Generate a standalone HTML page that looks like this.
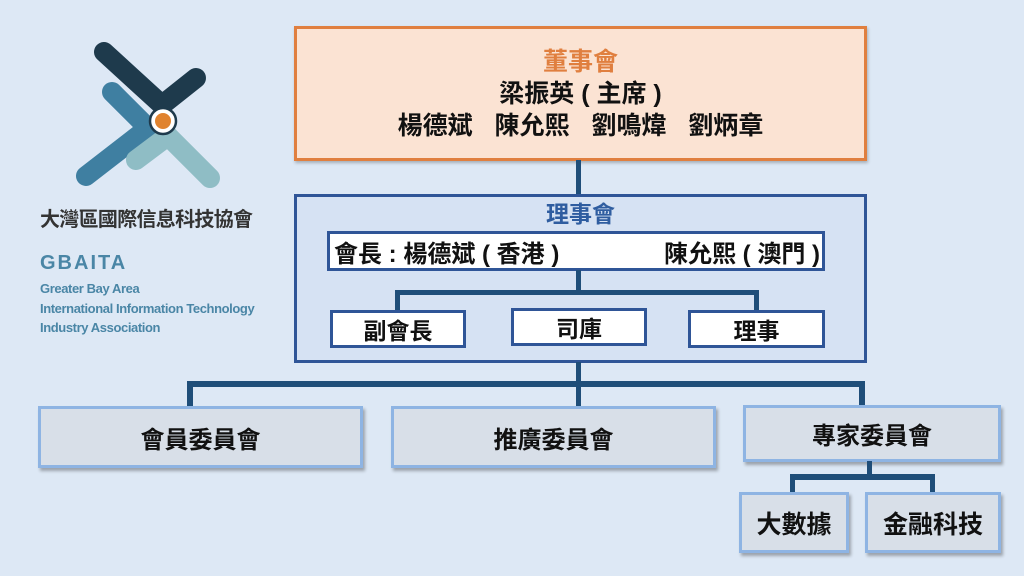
<!DOCTYPE html>
<html><head><meta charset="utf-8"><style>
body{margin:0;width:1024px;height:576px;background:#dde8f5;position:relative;overflow:hidden;font-family:"Liberation Sans","Noto Sans CJK TC",sans-serif;}
.a{position:absolute;box-sizing:border-box;display:flex;align-items:center;justify-content:center;color:#111;}
.l{position:absolute;background:#1f4e79;}
.w{background:#fff;border:3px solid #2f5597;font-size:23px;font-weight:bold;}
.c{background:#d8dfe8;border:3px solid #8eb4e3;box-shadow:2px 3px 3px rgba(0,0,0,.3);font-size:24px;font-weight:bold;}
.t{position:absolute;white-space:nowrap;}
</style></head><body>
<svg style="position:absolute;left:0;top:0" width="300" height="200">
<g stroke-linecap="round" stroke-width="20" fill="none">
<line x1="104" y1="52" x2="162" y2="105" stroke="#1e3a4c"/>
<line x1="162" y1="105" x2="196" y2="78" stroke="#1e3a4c"/>
<line x1="112" y1="92" x2="148" y2="128" stroke="#3f7fa1"/>
<line x1="148" y1="128" x2="86" y2="176" stroke="#3f7fa1"/>
<line x1="136" y1="160" x2="168" y2="136" stroke="#8fbdc5"/>
<line x1="168" y1="136" x2="210" y2="178" stroke="#8fbdc5"/>
</g>
<circle cx="163" cy="121" r="13" fill="#fff" stroke="#1e3a4c" stroke-width="2.5"/>
<circle cx="163" cy="121" r="8" fill="#e0832f"/>
</svg>
<div class="t" style="left:40px;top:203px;font-size:20px;font-weight:bold;color:#333;letter-spacing:-0.7px">大灣區國際信息科技協會</div>
<div class="t" style="left:40px;top:252px;font-size:20px;font-weight:bold;color:#4a86a6;letter-spacing:2px">GBAITA</div>
<div class="t" style="left:40px;top:279px;font-size:13px;font-weight:bold;color:#4a86a6;line-height:19.5px;letter-spacing:-0.4px">Greater Bay Area<br>International Information Technology<br>Industry Association</div>

<div class="a" style="left:294px;top:26px;width:573px;height:135px;background:#fbe3d3;border:3px solid #e07f3f;box-shadow:1px 2px 3px rgba(0,0,0,.25);flex-direction:column;font-weight:bold;font-size:25px;line-height:32px">
<div style="color:#e07f3f">董事會</div><div>梁振英 ( 主席 )</div><div style="word-spacing:4px">楊德斌&nbsp; 陳允熙&nbsp; 劉鳴煒&nbsp; 劉炳章</div></div>
<div class="l" style="left:576px;top:160px;width:5px;height:35px"></div>
<div class="a" style="left:294px;top:194px;width:573px;height:169px;background:#d6e2f3;border:3px solid #2f5597;align-items:flex-start"><div style="color:#2f5da0;font-size:23px;font-weight:bold;margin-top:2px;line-height:30px">理事會</div></div>
<div class="a w" style="left:327px;top:231px;width:498px;height:40px;justify-content:space-between;padding:0 2px 0 4px;font-size:24px">
<span>會長 : 楊德斌 ( 香港 )</span><span>陳允熙 ( 澳門 )</span></div>
<div class="l" style="left:576px;top:270px;width:5px;height:24px"></div>
<div class="l" style="left:395px;top:290px;width:364px;height:5px"></div>
<div class="l" style="left:395px;top:290px;width:5px;height:21px"></div>
<div class="l" style="left:754px;top:290px;width:5px;height:21px"></div>
<div class="a w" style="left:330px;top:310px;width:136px;height:38px">副會長</div>
<div class="a w" style="left:511px;top:308px;width:136px;height:38px">司庫</div>
<div class="a w" style="left:688px;top:310px;width:137px;height:38px">理事</div>
<div class="l" style="left:576px;top:362px;width:5px;height:46px"></div>
<div class="l" style="left:187px;top:381px;width:678px;height:6px"></div>
<div class="l" style="left:187px;top:381px;width:6px;height:27px"></div>
<div class="l" style="left:859px;top:381px;width:6px;height:26px"></div>
<div class="a c" style="left:38px;top:406px;width:325px;height:62px">會員委員會</div>
<div class="a c" style="left:391px;top:406px;width:325px;height:62px">推廣委員會</div>
<div class="a c" style="left:743px;top:405px;width:258px;height:57px">專家委員會</div>
<div class="l" style="left:867px;top:461px;width:5px;height:16px"></div>
<div class="l" style="left:790px;top:474px;width:145px;height:6px"></div>
<div class="l" style="left:790px;top:474px;width:5px;height:19px"></div>
<div class="l" style="left:930px;top:474px;width:5px;height:19px"></div>
<div class="a c" style="left:739px;top:492px;width:110px;height:61px;font-size:25px">大數據</div>
<div class="a c" style="left:865px;top:492px;width:136px;height:61px;font-size:25px">金融科技</div>
</body></html>
